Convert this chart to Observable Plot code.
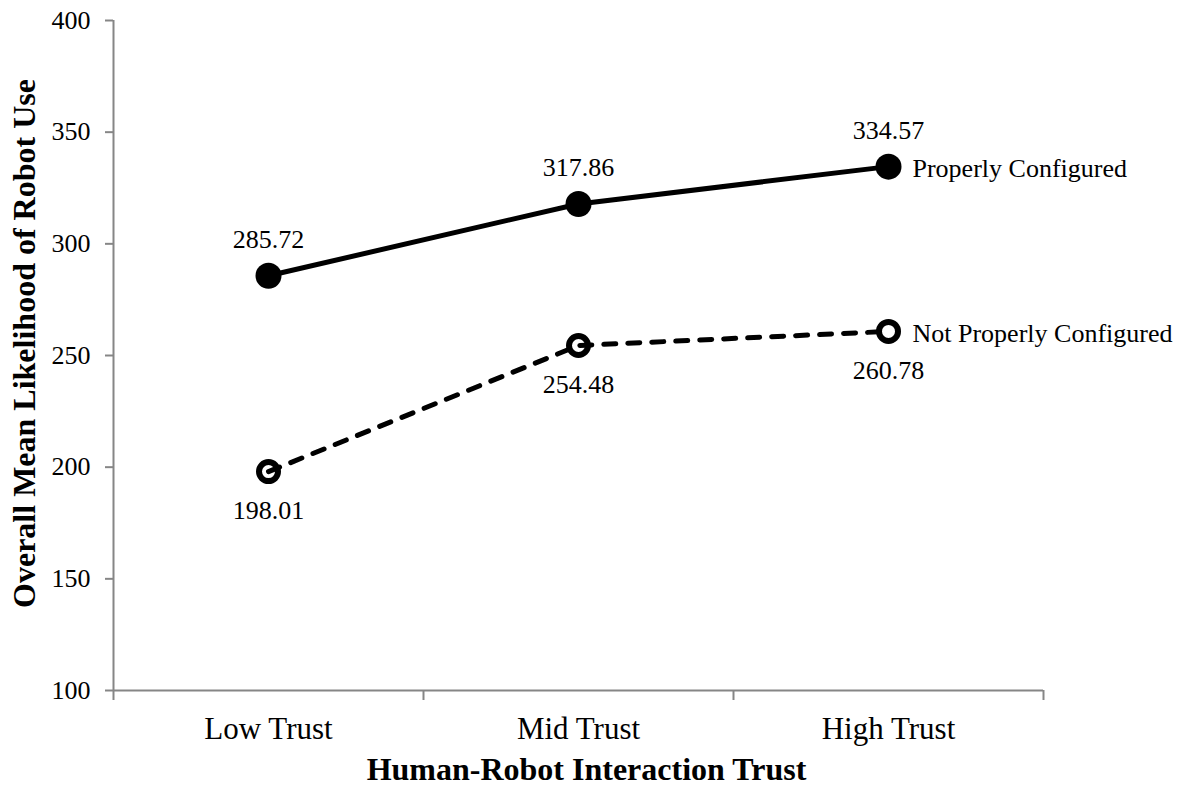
<!DOCTYPE html>
<html>
<head>
<meta charset="utf-8">
<script src="https://cdn.jsdelivr.net/npm/d3@7"></script>
<script src="https://cdn.jsdelivr.net/npm/@observablehq/plot@0.6"></script>
<style>
  html, body { margin: 0; padding: 0; background: white; }
  #chart svg text { font-family: 'Liberation Serif', 'Times New Roman', serif !important; font-variant: normal !important; }
</style>
</head>
<body>
<div id="chart"></div>
<script>
const categories = ["Low Trust", "Mid Trust", "High Trust"];
const properlyValues = [285.72, 317.86, 334.57];
const notProperlyValues = [198.01, 254.48, 260.78];
const seriesNames = ["Properly Configured", "Not Properly Configured"];
const yTicks = [100, 150, 200, 250, 300, 350, 400];
const xTitle = "Human-Robot Interaction Trust";
const yTitle = "Overall Mean Likelihood of Robot Use";

const properly = categories.map((c, i) => ({cat: c, i, value: properlyValues[i], series: seriesNames[0]}));
const notProperly = categories.map((c, i) => ({cat: c, i, value: notProperlyValues[i], series: seriesNames[1]}));
const xPos = d => d.i + 0.5;
const axisGrey = "#868686";
const font = "'Liberation Serif', 'Times New Roman', serif";

const chart = Plot.plot({
  width: 1186,
  height: 787,
  marginLeft: 113,
  marginRight: 143,
  marginTop: 20,
  marginBottom: 97,
  x: {domain: [0, categories.length]},
  y: {domain: [yTicks[0], yTicks[yTicks.length - 1]]},
  style: {fontFamily: font, fontSize: "26px", background: "white", color: "black"},
  marks: [
    Plot.ruleY([yTicks[0]], {stroke: axisGrey, strokeWidth: 2}),
    Plot.ruleX([0], {stroke: axisGrey, strokeWidth: 2}),
    Plot.axisY({ticks: yTicks, tickSize: 8, tickPadding: 15, stroke: axisGrey, strokeWidth: 2, fill: "black", fontSize: 26, fontVariant: "normal", label: null}),
    Plot.axisX({ticks: d3.range(categories.length + 1), tickSize: 10, tickFormat: () => "", stroke: axisGrey, strokeWidth: 2, label: null}),
    Plot.axisX({ticks: categories.map((c, i) => i + 0.5), tickSize: 0, tickPadding: 26, tickFormat: v => categories[Math.floor(v)], fill: "black", fontSize: 31, label: null}),
    Plot.line(properly, {x: xPos, y: "value", stroke: "black", strokeWidth: 5}),
    Plot.line(notProperly, {x: xPos, y: "value", stroke: "black", strokeWidth: 5, strokeDasharray: "12,12", strokeLinecap: "round"}),
    Plot.dot(properly, {x: xPos, y: "value", r: 13, fill: "black"}),
    Plot.dot(notProperly, {x: xPos, y: "value", r: 9.5, fill: "none", stroke: "black", strokeWidth: 6}),
    Plot.text(properly, {x: xPos, y: "value", text: d => d.value.toFixed(2), dy: -36, fontSize: 26, fontVariant: "normal", lineAnchor: "middle"}),
    Plot.text(notProperly, {x: xPos, y: "value", text: d => d.value.toFixed(2), dy: 39, fontSize: 26, fontVariant: "normal", lineAnchor: "middle"}),
    Plot.text([properly[properly.length - 1], notProperly[notProperly.length - 1]], {x: xPos, y: "value", text: "series", textAnchor: "start", dx: 24, dy: 2, fontSize: 26, lineAnchor: "middle"}),
    Plot.text([yTitle], {frameAnchor: "left", rotate: -90, dx: -89, dy: -12, fontSize: 32, fontWeight: "bold", textAnchor: "middle", lineAnchor: "middle"}),
    Plot.text([xTitle], {frameAnchor: "bottom", dx: 8, dy: 79, fontSize: 32, fontWeight: "bold", lineAnchor: "middle"})
  ]
});
document.getElementById("chart").appendChild(chart);
</script>
</body>
</html>
